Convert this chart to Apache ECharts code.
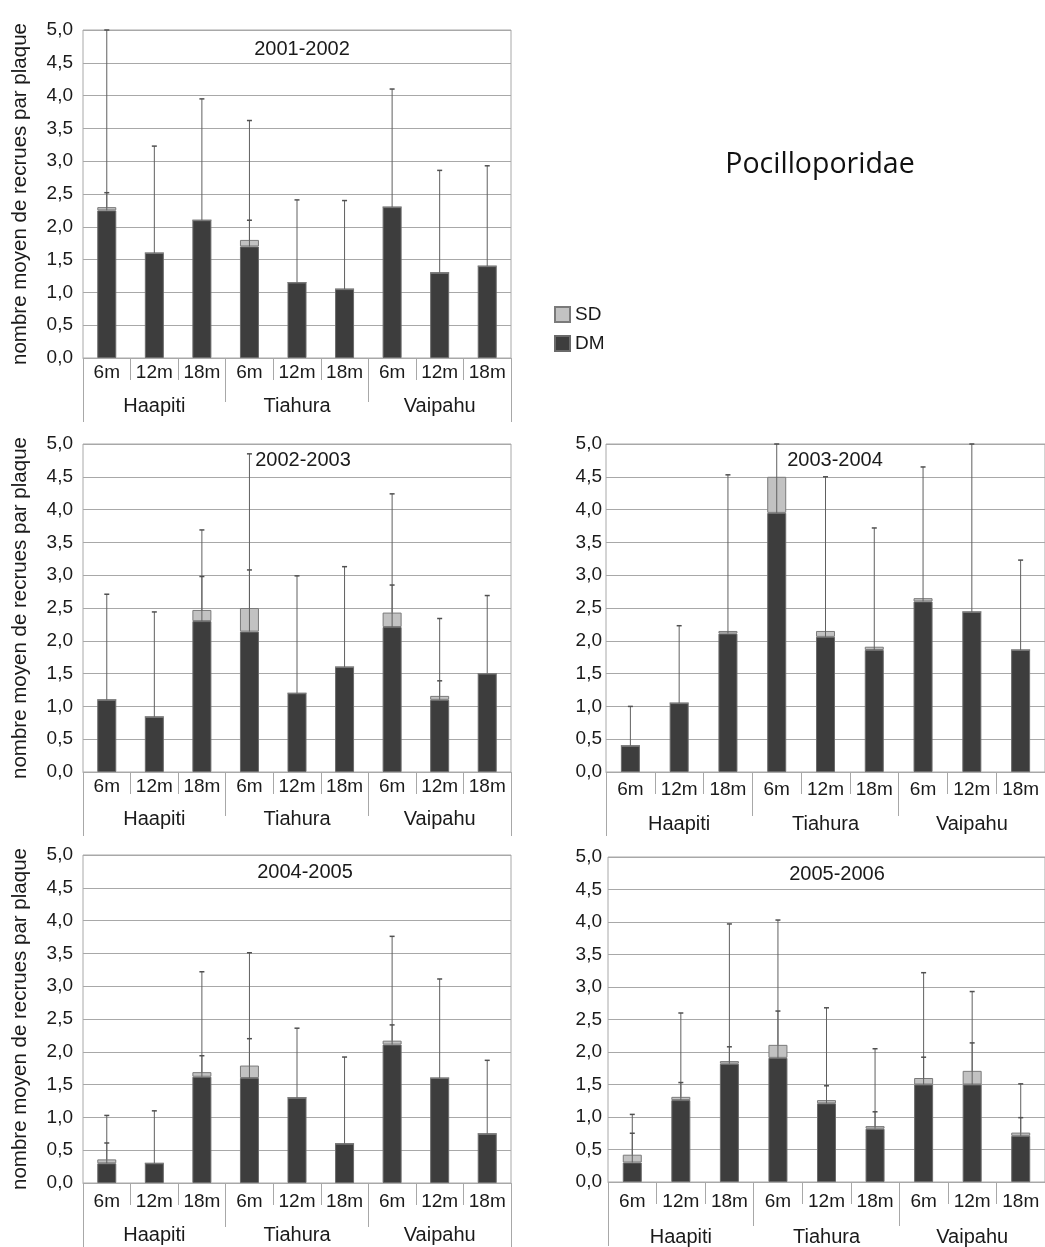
<!DOCTYPE html>
<html>
<head>
<meta charset="utf-8">
<script src="https://cdn.jsdelivr.net/npm/echarts@6/dist/echarts.min.js"></script>
<style>
html,body{margin:0;padding:0;background:#fff;}
#chart{width:1045px;height:1247px;}
</style>
</head>
<body>
<div id="chart"></div>
<script>
// ---- data ----
const depths = ['6m','12m','18m','6m','12m','18m','6m','12m','18m'];
const sites = ['Haapiti','Tiahura','Vaipahu'];
const yTicks = [0,0.5,1,1.5,2,2.5,3,3.5,4,4.5,5];
const years = ['2001-2002','2002-2003','2003-2004','2004-2005','2005-2006'];

const dm2001 = [2.25,1.6,2.1,1.7,1.15,1.05,2.3,1.3,1.4];
const sd2001 = [0.05,0,0,0.1,0,0,0,0,0];
const errDm2001 = [5.0,3.23,3.95,3.62,2.41,2.4,4.1,2.86,2.93];
const errSd2001 = [2.52,null,null,2.1,null,null,null,null,null];

const dm2002 = [1.1,0.84,2.3,2.14,1.2,1.6,2.21,1.1,1.5];
const sd2002 = [0,0,0.17,0.36,0,0,0.22,0.06,0];
const errDm2002 = [2.71,2.44,3.69,4.85,2.99,3.13,4.24,2.34,2.69];
const errSd2002 = [null,null,2.98,3.08,null,null,2.85,1.39,null];

const dm2003 = [0.4,1.05,2.11,3.95,2.06,1.86,2.6,2.44,1.86];
const sd2003 = [0,0,0.04,0.55,0.09,0.05,0.05,0,0];
const errDm2003 = [1.0,2.23,4.53,5.0,4.5,3.72,4.65,5.0,3.23];
const errSd2003 = [null,null,null,null,null,null,null,null,null];

const dm2004 = [0.3,0.3,1.62,1.6,1.3,0.6,2.11,1.6,0.75];
const sd2004 = [0.06,0,0.07,0.19,0,0,0.06,0,0];
const errDm2004 = [1.03,1.1,3.22,3.51,2.36,1.92,3.76,3.11,1.87];
const errSd2004 = [0.61,null,1.94,2.2,null,null,2.41,null,null];

const dm2005 = [0.3,1.26,1.82,1.91,1.21,0.82,1.5,1.5,0.71];
const sd2005 = [0.12,0.05,0.04,0.2,0.05,0.04,0.1,0.21,0.05];
const errDm2005 = [1.04,2.6,3.97,4.03,2.68,2.05,3.22,2.93,1.51];
const errSd2005 = [0.75,1.53,2.08,2.63,1.48,1.08,1.92,2.14,0.99];

const panelsData = [
  {dm: dm2001, sd: sd2001, eD: errDm2001, eS: errSd2001},
  {dm: dm2002, sd: sd2002, eD: errDm2002, eS: errSd2002},
  {dm: dm2003, sd: sd2003, eD: errDm2003, eS: errSd2003},
  {dm: dm2004, sd: sd2004, eD: errDm2004, eS: errSd2004},
  {dm: dm2005, sd: sd2005, eD: errDm2005, eS: errSd2005}
];

// ---- layout ----
const layout = [
  {left: 83,  top: 30,  width: 428, titleX: 297, titleY: 34,  yName: true,  catM: 5.5, grpM: 38, yLM: 10},
  {left: 83,  top: 444, width: 428, titleX: 298, titleY: 445, yName: true,  catM: 5.5, grpM: 37, yLM: 10},
  {left: 606, top: 444, width: 439, titleX: 830, titleY: 445, yName: false, catM: 8,   grpM: 42, yLM: 4},
  {left: 83,  top: 855, width: 428, titleX: 300, titleY: 857, yName: true,  catM: 9,   grpM: 42, yLM: 10},
  {left: 608, top: 857, width: 438, titleX: 832, titleY: 859, yName: false, catM: 10,  grpM: 45, yLM: 6}
];
const PH = 328;
const FONT = '"Liberation Sans", Arial, sans-serif';
const TXT = '#1a1a1a';
const GRID_C = '#a8a8a8';
const DM_C = '#3d3d3d';
const SD_C = '#c2c2c2';

const grids = [], xAxes = [], yAxes = [], series = [], titles = [];

function renderErr(params, api) {
  const x = api.value(0), lo = api.value(1), hi = api.value(2);
  if (hi == null || isNaN(hi)) return null;
  const p0 = api.coord([x, lo]);
  const p1 = api.coord([x, hi]);
  return {
    type: 'group',
    children: [
      {type: 'line', shape: {x1: p0[0], y1: p0[1], x2: p1[0], y2: p1[1]}, style: {stroke: '#606060', lineWidth: 1}},
      {type: 'line', shape: {x1: p1[0] - 2.5, y1: p1[1], x2: p1[0] + 2.5, y2: p1[1]}, style: {stroke: '#505050', lineWidth: 1.5}}
    ]
  };
}

layout.forEach((L, i) => {
  const d = panelsData[i];
  grids.push({left: L.left, top: L.top, width: L.width, height: PH, show: true, borderColor: GRID_C, borderWidth: 1, backgroundColor: 'transparent'});
  xAxes.push({
    type: 'category', gridIndex: i, data: depths, position: 'bottom',
    axisLine: {show: true, lineStyle: {color: GRID_C, width: 1}},
    axisTick: {show: true, length: 22, interval: 0, lineStyle: {color: GRID_C}},
    axisLabel: {interval: 0, margin: L.catM, fontSize: 19, color: TXT, fontFamily: FONT}
  });
  xAxes.push({
    type: 'category', gridIndex: i, data: sites, position: 'bottom',
    axisLine: {show: false},
    axisTick: {show: true, length: 44, interval: 0, lineStyle: {color: GRID_C}},
    axisLabel: {interval: 0, margin: L.grpM, fontSize: 20, color: TXT, fontFamily: FONT}
  });
  xAxes.push({
    type: 'category', gridIndex: i, data: [''], position: 'bottom',
    axisLine: {show: false},
    axisTick: {show: true, length: 64, lineStyle: {color: GRID_C}},
    axisLabel: {show: false}
  });
  yAxes.push({
    type: 'value', gridIndex: i, min: 0, max: 5, interval: 0.5,
    name: L.yName ? 'nombre moyen de recrues par plaque' : '',
    nameLocation: 'middle', nameGap: 52,
    nameTextStyle: {fontSize: 20.5, color: TXT, fontFamily: FONT},
    axisLine: {show: false}, axisTick: {show: false},
    axisLabel: {margin: L.yLM, fontSize: 19, color: TXT, fontFamily: FONT,
      formatter: v => v.toFixed(1).replace('.', ',')},
    splitLine: {show: true, lineStyle: {color: GRID_C, width: 1}}
  });
  titles.push({text: years[i], left: L.titleX, top: L.titleY, textAlign: 'center',
    textStyle: {fontSize: 20, fontWeight: 'normal', color: TXT, fontFamily: FONT}});

  series.push({
    name: 'DM', type: 'bar', stack: 'p' + i, xAxisIndex: i * 3, yAxisIndex: i,
    data: d.dm, barWidth: 19,
    itemStyle: {color: DM_C, borderColor: '#6a6a6a', borderWidth: 1},
    emphasis: {disabled: true}, z: 2
  });
  series.push({
    name: 'SD', type: 'bar', stack: 'p' + i, xAxisIndex: i * 3, yAxisIndex: i,
    data: d.sd, barWidth: 19,
    itemStyle: {color: SD_C, borderColor: '#7a7a7a', borderWidth: 1},
    emphasis: {disabled: true}, z: 2
  });
  const errRows = [];
  d.dm.forEach((v, k) => {
    errRows.push([k, v, d.eD[k]]);
    if (d.eS[k] != null) errRows.push([k, v + d.sd[k], d.eS[k]]);
  });
  series.push({
    name: 'err' + i, type: 'custom', xAxisIndex: i * 3, yAxisIndex: i,
    renderItem: renderErr, data: errRows, encode: {x: 0, y: [1, 2]}, z: 5, silent: true
  });
});

titles.push({text: 'Pocilloporidae', left: 815, top: 145, textAlign: 'center',
  textStyle: {fontSize: 28.5, fontWeight: 'normal', color: '#111', fontFamily: '"Open Sans", "Noto Sans", sans-serif'}});

const chart = echarts.init(document.getElementById('chart'), null, {renderer: 'canvas'});
chart.setOption({
  animation: false,
  backgroundColor: '#fff',
  title: titles,
  legend: {
    data: ['SD', 'DM'], orient: 'vertical', left: 549, top: 300,
    itemWidth: 15, itemHeight: 15, itemGap: 10, icon: 'rect',
    textStyle: {fontSize: 19, color: TXT, fontFamily: FONT},
    selectedMode: false
  },
  grid: grids,
  xAxis: xAxes,
  yAxis: yAxes,
  series: series
});
</script>
</body>
</html>
